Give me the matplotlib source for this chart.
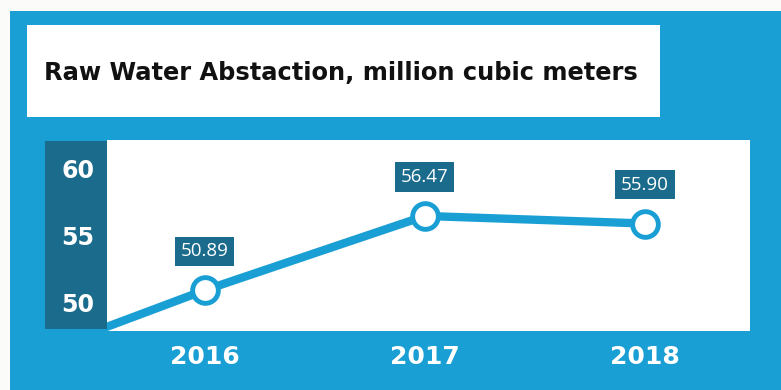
import matplotlib.pyplot as plt
from matplotlib.patches import Rectangle

# data (2015 value estimated from the line entering at the left edge)
years = [2015, 2016, 2017, 2018]
values = [44.7, 50.89, 56.47, 55.90]
shown_years = [2016, 2017, 2018]
y_ticks = [50, 55, 60]
title = "Raw Water Abstaction, million cubic meters"

blue = "#1a9fd4"
dark = "#1b6c8c"
W, H = 781, 390


def fx(px):
    return px / W


def fy(py):
    return 1 - py / H


fig = plt.figure(figsize=(7.81, 3.90), dpi=100, facecolor="#fbfbf9")

# blue panel
fig.patches.append(Rectangle((fx(10), 0), 1, fy(11), transform=fig.transFigure,
                             fc=blue, ec="none", zorder=-3))
# title box
fig.patches.append(Rectangle((fx(27), fy(117)), fx(660 - 27), (117 - 25) / H,
                             transform=fig.transFigure, fc="white", ec="none", zorder=-2))
fig.text(fx(44), fy(73), title, fontsize=17.4, fontweight="bold", color="#111111",
         ha="left", va="center", family="DejaVu Sans")
# dark y-axis band
fig.patches.append(Rectangle((fx(45), fy(329)), fx(107 - 45), (329 - 141) / H,
                             transform=fig.transFigure, fc=dark, ec="none", zorder=-2))

ax = fig.add_axes([fx(107), fy(331), fx(750 - 107), (331 - 140) / H])
ax.set_zorder(5)
ax.set_facecolor("white")
ax.plot(years, values, color=blue, lw=6, marker="o", ms=18.5, mfc="white",
        mec=blue, mew=3.5, solid_capstyle="butt")

for yr, v in zip(years, values):
    if yr in shown_years:
        ax.annotate(f"{v:.2f}", (yr, v), xytext=(0, 28), textcoords="offset points",
                    ha="center", va="center", fontsize=13.5, color="white",
                    family="Open Sans",
                    bbox=dict(boxstyle="square,pad=0.3", fc=dark, ec="none"))

ax.set_xlim(2015.555, 2018.477)
ax.set_ylim(47.82, 62.18)
ax.set_xticks(shown_years)
ax.set_xticklabels([str(y) for y in shown_years])
ax.set_yticks(y_ticks)
ax.tick_params(length=0)
ax.tick_params(axis="x", pad=10, labelsize=18, labelcolor="white")
ax.tick_params(axis="y", pad=9, labelsize=17, labelcolor="white")
for lab in ax.get_xticklabels() + ax.get_yticklabels():
    lab.set_fontweight("bold")
for s in ax.spines.values():
    s.set_visible(False)

fig.savefig("out.png", dpi=100)
